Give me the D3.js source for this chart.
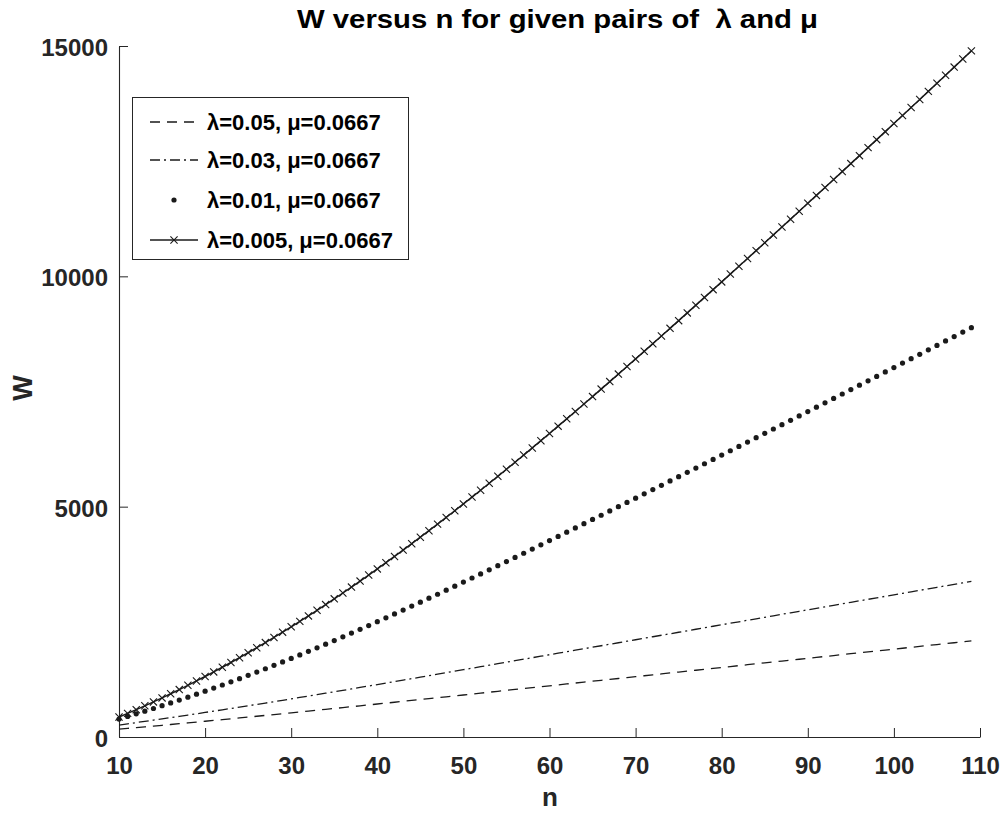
<!DOCTYPE html>
<html>
<head>
<meta charset="utf-8">
<script src="https://cdn.jsdelivr.net/npm/d3@7"></script>
<style>
  html, body { margin: 0; padding: 0; background: #fff; }
  svg { display: block; font-family: "Liberation Sans", Arial, sans-serif; }
</style>
</head>
<body>
<svg id="chart" width="1007" height="819"></svg>
<script>
// ---------------- data ----------------
const nValues = d3.range(10, 110); // n = 10 ... 109

const seriesLabels = [
  "λ=0.05, μ=0.0667",
  "λ=0.03, μ=0.0667",
  "λ=0.01, μ=0.0667",
  "λ=0.005, μ=0.0667"
];

const wLambda005 = [170, 187, 203, 220, 237, 254, 271, 289, 306, 324, 342, 359, 377, 395, 414, 432, 450, 469, 487, 506,
  525, 543, 562, 581, 600, 619, 638, 658, 677, 696, 716, 735, 754, 774, 794, 813, 833, 853, 872, 892,
  912, 932, 952, 972, 992, 1012, 1032, 1051, 1071, 1091, 1111, 1131, 1151, 1171, 1191, 1211, 1231, 1250, 1270, 1290,
  1310, 1330, 1350, 1370, 1390, 1410, 1430, 1449, 1469, 1489, 1509, 1529, 1549, 1569, 1589, 1609, 1629, 1648, 1668, 1688,
  1708, 1728, 1748, 1768, 1788, 1808, 1828, 1847, 1867, 1887, 1907, 1927, 1947, 1967, 1987, 2007, 2027, 2046, 2066, 2086];

const wLambda003 = [260, 286, 313, 339, 366, 393, 421, 448, 476, 504, 533, 561, 590, 619, 648, 678, 707, 737, 767, 797,
  828, 858, 889, 920, 951, 982, 1013, 1044, 1076, 1107, 1139, 1171, 1203, 1235, 1267, 1299, 1331, 1364, 1396, 1429,
  1461, 1494, 1526, 1559, 1591, 1624, 1656, 1689, 1721, 1754, 1786, 1819, 1851, 1884, 1916, 1949, 1981, 2014, 2046, 2079,
  2111, 2144, 2176, 2209, 2241, 2274, 2306, 2339, 2371, 2404, 2436, 2469, 2501, 2534, 2566, 2599, 2631, 2664, 2696, 2729,
  2761, 2794, 2826, 2859, 2891, 2924, 2956, 2989, 3021, 3054, 3086, 3119, 3151, 3184, 3216, 3249, 3281, 3314, 3346, 3379];

const wLambda001 = [390, 446, 502, 560, 619, 679, 740, 802, 865, 930, 995, 1062, 1129, 1198, 1267, 1338, 1409, 1482, 1555, 1630,
  1705, 1781, 1859, 1936, 2015, 2094, 2175, 2255, 2337, 2419, 2503, 2586, 2671, 2755, 2841, 2926, 3013, 3099, 3187, 3274,
  3363, 3451, 3540, 3629, 3719, 3809, 3899, 3989, 4080, 4171, 4263, 4354, 4446, 4538, 4630, 4722, 4814, 4907, 4999, 5092,
  5185, 5278, 5371, 5464, 5558, 5651, 5745, 5838, 5932, 6026, 6120, 6214, 6308, 6402, 6497, 6591, 6686, 6780, 6875, 6970,
  7065, 7160, 7255, 7350, 7446, 7541, 7637, 7732, 7828, 7924, 8020, 8116, 8212, 8308, 8404, 8501, 8597, 8693, 8790, 8886];

const wLambda0005 = [434, 513, 594, 677, 762, 849, 938, 1029, 1122, 1217, 1314, 1413, 1514, 1617, 1722, 1829, 1938, 2049, 2161, 2276,
  2392, 2510, 2629, 2751, 2874, 2999, 3126, 3254, 3384, 3516, 3649, 3784, 3920, 4057, 4196, 4337, 4478, 4621, 4766, 4912,
  5059, 5208, 5357, 5508, 5659, 5812, 5965, 6120, 6275, 6432, 6589, 6748, 6907, 7067, 7228, 7389, 7552, 7715, 7878, 8042,
  8207, 8372, 8538, 8704, 8871, 9038, 9206, 9374, 9542, 9711, 9879, 10049, 10218, 10388, 10558, 10728, 10899, 11070, 11241, 11413,
  11585, 11757, 11929, 12101, 12274, 12447, 12620, 12794, 12967, 13141, 13316, 13490, 13665, 13840, 14015, 14191, 14366, 14542, 14718, 14894];

const xTicks = [10, 20, 30, 40, 50, 60, 70, 80, 90, 100, 110];
const yTicks = [0, 5000, 10000, 15000];

const titleText = "W versus n for given pairs of  λ and μ";
const xLabel = "n";
const yLabel = "W";

// ---------------- drawing ----------------
(function draw() {
  const svg = d3.select("#chart");
  svg.append("rect").attr("width", 1007).attr("height", 819).attr("fill", "#fff");

  const pLeft = 119, pRight = 980, pTop = 46, pBottom = 737;
  const x = d3.scaleLinear().domain([10, 110]).range([pLeft, pRight]);
  const y = d3.scaleLinear().domain([0, 15000]).range([pBottom, pTop]);

  const axisColor = "#262626";
  const lineColor = "#1a1a1a";

  // axes
  const gx = svg.append("g").attr("transform", `translate(0,${pBottom})`)
    .call(d3.axisBottom(x).tickValues(xTicks).tickSizeInner(-9).tickSizeOuter(0).tickPadding(20));
  const gy = svg.append("g").attr("transform", `translate(${pLeft},0)`)
    .call(d3.axisLeft(y).tickValues(yTicks).tickFormat(d3.format("d")).tickSizeInner(-9).tickSizeOuter(0).tickPadding(11));

  [gx, gy].forEach(g => {
    g.select(".domain").attr("stroke", axisColor).attr("stroke-width", 1.1);
    g.selectAll(".tick line").attr("stroke", axisColor).attr("stroke-width", 1);
    g.selectAll(".tick text").attr("fill", axisColor).attr("font-size", 24)
      .attr("font-weight", "bold").attr("font-family", "'Liberation Sans', Arial, sans-serif");
  });
  gy.selectAll(".tick text").attr("dy", "0.4em");

  // series
  const mk = arr => nValues.map((n, i) => ({ n, w: arr[i] }));
  const line = d3.line().x(d => x(d.n)).y(d => y(d.w));

  const s1 = mk(wLambda005), s2 = mk(wLambda003), s3 = mk(wLambda001), s4 = mk(wLambda0005);

  svg.append("path").datum(s1).attr("d", line).attr("fill", "none")
    .attr("stroke", lineColor).attr("stroke-width", 1.3).attr("stroke-dasharray", "10,7");

  svg.append("path").datum(s2).attr("d", line).attr("fill", "none")
    .attr("stroke", lineColor).attr("stroke-width", 1.3).attr("stroke-dasharray", "10,4,2,4");

  svg.append("g").selectAll("circle").data(s3).join("circle")
    .attr("cx", d => x(d.n)).attr("cy", d => y(d.w)).attr("r", 2.6).attr("fill", lineColor);

  svg.append("path").datum(s4).attr("d", line).attr("fill", "none")
    .attr("stroke", lineColor).attr("stroke-width", 1.5);

  const xMark = (g, cx, cy, s) => {
    g.append("path").attr("d", `M${cx - s},${cy - s}L${cx + s},${cy + s}M${cx - s},${cy + s}L${cx + s},${cy - s}`)
      .attr("stroke", lineColor).attr("stroke-width", 1.1).attr("fill", "none");
  };
  const gm = svg.append("g");
  s4.forEach(d => xMark(gm, x(d.n), y(d.w), 3.6));

  // title and axis labels
  svg.append("text").attr("x", 297).attr("y", 28)
    .style("white-space", "pre")
    .attr("font-size", 26).attr("font-weight", "bold").attr("fill", "#000")
    .attr("textLength", 521).attr("lengthAdjust", "spacingAndGlyphs")
    .text(titleText);

  svg.append("text").attr("x", 550).attr("y", 806).attr("text-anchor", "middle")
    .attr("font-size", 26).attr("font-weight", "bold").attr("fill", axisColor).text(xLabel);

  svg.append("text").attr("transform", "translate(32,388) rotate(-90)").attr("text-anchor", "middle")
    .attr("font-size", 27).attr("font-weight", "bold").attr("fill", axisColor).text(yLabel);

  // legend
  const lg = svg.append("g");
  lg.append("rect").attr("x", 132.5).attr("y", 97.5).attr("width", 276).attr("height", 162)
    .attr("fill", "#fff").attr("stroke", axisColor).attr("stroke-width", 1);
  const rowY = [122, 160, 200, 240];
  const sx0 = 150, sx1 = 198;
  lg.append("line").attr("x1", sx0).attr("x2", sx1).attr("y1", rowY[0]).attr("y2", rowY[0])
    .attr("stroke", lineColor).attr("stroke-width", 1.3).attr("stroke-dasharray", "10,7");
  lg.append("line").attr("x1", sx0).attr("x2", sx1).attr("y1", rowY[1]).attr("y2", rowY[1])
    .attr("stroke", lineColor).attr("stroke-width", 1.3).attr("stroke-dasharray", "10,4,2,4");
  lg.append("circle").attr("cx", (sx0 + sx1) / 2).attr("cy", rowY[2]).attr("r", 2.6).attr("fill", lineColor);
  lg.append("line").attr("x1", sx0).attr("x2", sx1).attr("y1", rowY[3]).attr("y2", rowY[3])
    .attr("stroke", lineColor).attr("stroke-width", 1.5);
  xMark(lg, (sx0 + sx1) / 2, rowY[3], 3.6);

  lg.selectAll("text.lab").data(seriesLabels).join("text").attr("class", "lab")
    .attr("x", 207).attr("y", (d, i) => rowY[i] + 8)
    .attr("font-size", 22).attr("font-weight", "bold").attr("fill", "#000")
    .text(d => d);
})();
</script>
</body>
</html>
